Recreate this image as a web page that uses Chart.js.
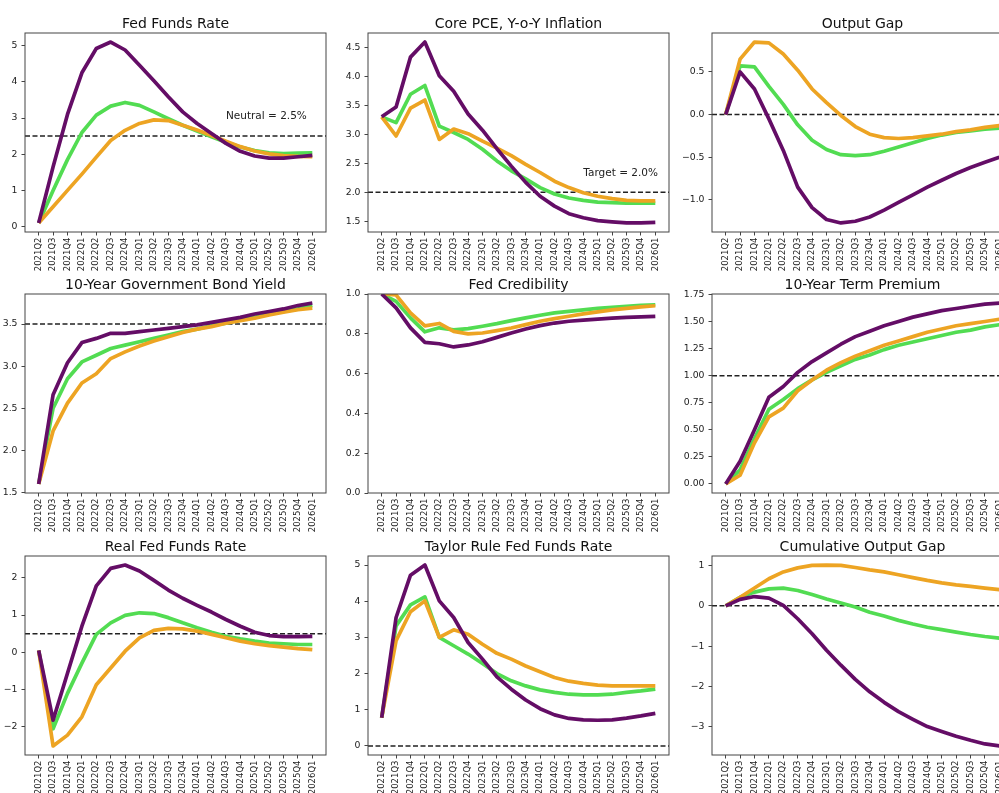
<!DOCTYPE html>
<html>
<head>
<meta charset="utf-8">
<script src="https://cdn.jsdelivr.net/npm/chart.js@4"></script>
<style>
  body { margin: 0; background: #fff; width: 999px; height: 793px; overflow: hidden; position: relative; }
  canvas { position: absolute; }
</style>
</head>
<body>
<script>
// quarters on the x axis
const quarters = ['2021Q2','2021Q3','2021Q4','2022Q1','2022Q2','2022Q3','2022Q4','2023Q1','2023Q2','2023Q3',
                  '2023Q4','2024Q1','2024Q2','2024Q3','2024Q4','2025Q1','2025Q2','2025Q3','2025Q4','2026Q1'];

// Fed Funds Rate
const ffrPurple = [0.1, 1.65, 3.1, 4.25, 4.92, 5.1, 4.88, 4.46, 4.03, 3.59, 3.17, 2.85, 2.57, 2.3, 2.08, 1.95, 1.89, 1.89, 1.93, 1.97];
const ffrGreen  = [0.1, 1.0, 1.85, 2.6, 3.08, 3.33, 3.43, 3.35, 3.17, 2.98, 2.8, 2.64, 2.48, 2.33, 2.2, 2.1, 2.04, 2.02, 2.03, 2.04];
const ffrOrange = [0.1, 0.55, 1.0, 1.45, 1.92, 2.38, 2.66, 2.85, 2.95, 2.93, 2.8, 2.67, 2.52, 2.36, 2.21, 2.09, 2.01, 1.96, 1.94, 1.93];
const ffrTicks  = [0, 1, 2, 3, 4, 5];

// Core PCE inflation
const pcePurple = [3.3, 3.47, 4.33, 4.59, 4.01, 3.74, 3.35, 3.07, 2.75, 2.45, 2.17, 1.93, 1.76, 1.63, 1.56, 1.51, 1.49, 1.47, 1.47, 1.48];
const pceGreen  = [3.3, 3.2, 3.69, 3.84, 3.14, 3.03, 2.91, 2.74, 2.54, 2.37, 2.23, 2.08, 1.97, 1.9, 1.86, 1.83, 1.82, 1.81, 1.81, 1.81];
const pceOrange = [3.3, 2.97, 3.45, 3.59, 2.91, 3.09, 3.01, 2.88, 2.76, 2.63, 2.48, 2.34, 2.19, 2.08, 1.99, 1.93, 1.89, 1.86, 1.85, 1.85];
const pceTicks  = [1.5, 2.0, 2.5, 3.0, 3.5, 4.0, 4.5];

// Output gap
const gapPurple = [0, 0.5, 0.3, -0.05, -0.42, -0.85, -1.09, -1.23, -1.27, -1.25, -1.2, -1.12, -1.03, -0.94, -0.85, -0.77, -0.69, -0.62, -0.56, -0.5];
const gapGreen  = [0, 0.57, 0.56, 0.33, 0.12, -0.12, -0.3, -0.41, -0.47, -0.48, -0.47, -0.43, -0.38, -0.33, -0.28, -0.24, -0.21, -0.19, -0.17, -0.16];
const gapOrange = [0, 0.65, 0.85, 0.84, 0.71, 0.52, 0.3, 0.14, -0.01, -0.14, -0.23, -0.27, -0.28, -0.27, -0.25, -0.23, -0.2, -0.18, -0.15, -0.13];
const gapTicks  = [-1.0, -0.5, 0.0, 0.5];

// 10-year government bond yield
const bondPurple = [1.6, 2.66, 3.04, 3.28, 3.33, 3.39, 3.39, 3.41, 3.43, 3.45, 3.47, 3.49, 3.52, 3.55, 3.58, 3.62, 3.65, 3.68, 3.72, 3.75];
const bondGreen  = [1.6, 2.5, 2.85, 3.05, 3.13, 3.21, 3.25, 3.29, 3.33, 3.37, 3.41, 3.44, 3.48, 3.51, 3.55, 3.58, 3.62, 3.65, 3.68, 3.72];
const bondOrange = [1.6, 2.23, 2.56, 2.8, 2.91, 3.09, 3.17, 3.24, 3.3, 3.35, 3.4, 3.44, 3.47, 3.51, 3.54, 3.57, 3.61, 3.64, 3.67, 3.69];
const bondTicks  = [1.5, 2.0, 2.5, 3.0, 3.5];

// Fed credibility
const credPurple = [1.0, 0.93, 0.83, 0.757, 0.75, 0.734, 0.744, 0.76, 0.782, 0.804, 0.824, 0.841, 0.854, 0.863, 0.869, 0.874, 0.879, 0.883, 0.885, 0.888];
const credGreen  = [1.0, 0.963, 0.88, 0.81, 0.83, 0.82, 0.826, 0.838, 0.851, 0.866, 0.88, 0.893, 0.905, 0.913, 0.92, 0.928, 0.933, 0.938, 0.943, 0.946];
const credOrange = [1.0, 0.995, 0.905, 0.84, 0.852, 0.812, 0.8, 0.804, 0.816, 0.829, 0.846, 0.863, 0.876, 0.888, 0.9, 0.91, 0.92, 0.928, 0.935, 0.941];
const credTicks  = [0.0, 0.2, 0.4, 0.6, 0.8, 1.0];

// 10-year term premium
const termPurple = [0, 0.21, 0.5, 0.8, 0.9, 1.03, 1.13, 1.21, 1.29, 1.36, 1.41, 1.46, 1.5, 1.54, 1.57, 1.6, 1.62, 1.64, 1.66, 1.67];
const termGreen  = [0, 0.13, 0.42, 0.69, 0.78, 0.88, 0.96, 1.03, 1.09, 1.15, 1.19, 1.24, 1.28, 1.31, 1.34, 1.37, 1.4, 1.42, 1.45, 1.47];
const termOrange = [0, 0.08, 0.38, 0.62, 0.7, 0.86, 0.96, 1.05, 1.12, 1.18, 1.23, 1.28, 1.32, 1.36, 1.4, 1.43, 1.46, 1.48, 1.5, 1.52];
const termTicks  = [0, 0.25, 0.5, 0.75, 1.0, 1.25, 1.5, 1.75];

// Real fed funds rate
const realPurple = [0.05, -1.82, -0.56, 0.7, 1.78, 2.25, 2.34, 2.18, 1.93, 1.67, 1.45, 1.26, 1.08, 0.88, 0.7, 0.54, 0.45, 0.42, 0.42, 0.43];
const realGreen  = [0.05, -2.05, -1.1, -0.29, 0.48, 0.79, 0.99, 1.06, 1.04, 0.93, 0.79, 0.66, 0.54, 0.43, 0.36, 0.3, 0.25, 0.23, 0.21, 0.21];
const realOrange = [0.05, -2.51, -2.22, -1.73, -0.87, -0.42, 0.03, 0.39, 0.59, 0.64, 0.63, 0.57, 0.48, 0.39, 0.3, 0.23, 0.18, 0.14, 0.1, 0.07];
const realTicks  = [-2, -1, 0, 1, 2];

// Taylor rule fed funds rate
const taylorPurple = [0.78, 3.55, 4.72, 5.0, 4.01, 3.55, 2.86, 2.4, 1.91, 1.57, 1.27, 1.03, 0.86, 0.76, 0.72, 0.71, 0.72, 0.77, 0.83, 0.9];
const taylorGreen  = [0.78, 3.32, 3.9, 4.12, 3.0, 2.77, 2.54, 2.28, 2.0, 1.8, 1.66, 1.55, 1.48, 1.43, 1.41, 1.41, 1.43, 1.48, 1.52, 1.57];
const taylorOrange = [0.78, 2.91, 3.71, 4.01, 3.0, 3.21, 3.09, 2.81, 2.56, 2.4, 2.21, 2.05, 1.89, 1.79, 1.73, 1.68, 1.66, 1.66, 1.66, 1.66];
const taylorTicks  = [0, 1, 2, 3, 4, 5];

// Cumulative output gap
const cumPurple = [0, 0.16, 0.23, 0.19, 0.01, -0.32, -0.69, -1.1, -1.47, -1.82, -2.13, -2.39, -2.62, -2.81, -2.99, -3.11, -3.23, -3.33, -3.42, -3.47];
const cumGreen  = [0, 0.21, 0.34, 0.42, 0.44, 0.38, 0.28, 0.17, 0.07, -0.03, -0.16, -0.25, -0.36, -0.45, -0.53, -0.59, -0.65, -0.71, -0.76, -0.8];
const cumOrange = [0, 0.21, 0.44, 0.67, 0.84, 0.94, 1.0, 1.01, 1.0, 0.95, 0.89, 0.84, 0.77, 0.7, 0.63, 0.57, 0.52, 0.48, 0.44, 0.4];
const cumTicks  = [-3, -2, -1, 0, 1];

const PURPLE = '#640d66';
const GREEN = '#52dc52';
const ORANGE = '#eda423';
const FONT = "'DejaVu Sans', sans-serif";

const panels = [
  { title: 'Fed Funds Rate', s: [ffrPurple, ffrGreen, ffrOrange], ticks: ffrTicks, dec: 0, ref: 2.5,
    note: { x: 13, y: 2.97, text: 'Neutral = 2.5%' } },
  { title: 'Core PCE, Y-o-Y Inflation', s: [pcePurple, pceGreen, pceOrange], ticks: pceTicks, dec: 1, ref: 2.0,
    note: { x: 14, y: 2.28, text: 'Target = 2.0%' } },
  { title: 'Output Gap', s: [gapPurple, gapGreen, gapOrange], ticks: gapTicks, dec: 1, ref: 0 },
  { title: '10-Year Government Bond Yield', s: [bondPurple, bondGreen, bondOrange], ticks: bondTicks, dec: 1, ref: 3.5 },
  { title: 'Fed Credibility', s: [credPurple, credGreen, credOrange], ticks: credTicks, dec: 1, ref: null, lim: [0, 1] },
  { title: '10-Year Term Premium', s: [termPurple, termGreen, termOrange], ticks: termTicks, dec: 2, ref: 1.0 },
  { title: 'Real Fed Funds Rate', s: [realPurple, realGreen, realOrange], ticks: realTicks, dec: 0, ref: 0.5 },
  { title: 'Taylor Rule Fed Funds Rate', s: [taylorPurple, taylorGreen, taylorOrange], ticks: taylorTicks, dec: 0, ref: 0 },
  { title: 'Cumulative Output Gap', s: [cumPurple, cumGreen, cumOrange], ticks: cumTicks, dec: 0, ref: 0 }
];

const plotLefts = [25, 368, 712];
const plotTops = [33, 294, 556];
const plotW = 301, plotH = 199;
const yW = 40, padT = 30, padR = 2, xH = 50;
const xMin = -0.95, xMax = quarters.length - 1 + 0.95;

const fmt = (v, dec) => {
  const s = Math.abs(v).toFixed(dec);
  return (v < 0 && Number(s) !== 0 ? '\u2212' : '') + s;
};

// frame, title and text annotation
const decor = {
  id: 'decor',
  afterDatasetsDraw(chart, args, opts) {
    const { ctx, chartArea: a, scales } = chart;
    ctx.save();
    ctx.strokeStyle = '#444';
    ctx.lineWidth = 1;
    ctx.strokeRect(a.left, a.top, a.right - a.left, a.bottom - a.top);
    ctx.fillStyle = '#111';
    ctx.font = '14px ' + FONT;
    ctx.textAlign = 'center';
    ctx.textBaseline = 'alphabetic';
    ctx.fillText(opts.title, (a.left + a.right) / 2, a.top - 5);
    if (opts.note) {
      ctx.font = '10.5px ' + FONT;
      ctx.textAlign = 'left';
      ctx.fillStyle = '#222';
      ctx.fillText(opts.note.text, scales.x.getPixelForValue(opts.note.x), scales.y.getPixelForValue(opts.note.y));
    }
    ctx.restore();
  }
};

panels.forEach((p, k) => {
  const col = k % 3, row = Math.floor(k / 3);
  const cv = document.createElement('canvas');
  const W = yW + plotW + padR, H = padT + plotH + xH;
  cv.width = W; cv.height = H;
  cv.style.left = (plotLefts[col] - yW) + 'px';
  cv.style.top = (plotTops[row] - padT) + 'px';
  cv.style.width = W + 'px'; cv.style.height = H + 'px';
  document.body.appendChild(cv);

  let lo, hi;
  if (p.lim) {
    [lo, hi] = p.lim;
  } else {
    const all = p.s.flat().concat(p.ref === null ? [] : [p.ref]);
    const mn = Math.min(...all), mx = Math.max(...all), m = (mx - mn) * 0.05;
    lo = mn - m; hi = mx + m;
  }

  // drawn last = first in list, so purple sits on top
  const colors = [PURPLE, ORANGE, GREEN];
  const series = [p.s[0], p.s[2], p.s[1]];
  const datasets = series.map((vals, j) => ({
    data: vals.map((v, i) => ({ x: i, y: v })),
    borderColor: colors[j],
    borderWidth: 3.7,
    pointRadius: 0,
    tension: 0,
    borderJoinStyle: 'round',
    fill: false
  }));
  if (p.ref !== null) {
    datasets.push({
      data: [{ x: xMin, y: p.ref }, { x: xMax, y: p.ref }],
      borderColor: '#222',
      borderWidth: 1.5,
      borderDash: [5, 2.5],
      pointRadius: 0,
      fill: false
    });
  }

  new Chart(cv, {
    type: 'line',
    data: { datasets },
    options: {
      responsive: false,
      animation: false,
      events: [],
      layout: { padding: { top: padT, right: padR, left: 0, bottom: 0 } },
      plugins: { legend: { display: false }, title: { display: false }, tooltip: { enabled: false },
                 decor: { title: p.title, note: p.note } },
      scales: {
        x: {
          type: 'linear', min: xMin, max: xMax, bounds: 'data',
          afterBuildTicks: s => { s.ticks = quarters.map((q, i) => ({ value: i })); },
          afterFit: s => { s.height = xH; },
          grid: { drawOnChartArea: false, drawTicks: true, tickLength: 3.5, color: '#444' },
          border: { display: false },
          ticks: {
            autoSkip: false, maxRotation: 90, minRotation: 90, padding: 2,
            color: '#222', font: { family: FONT, size: 8.5 },
            callback: v => quarters[v]
          }
        },
        y: {
          type: 'linear', min: lo, max: hi, bounds: 'data',
          afterBuildTicks: s => { s.ticks = p.ticks.map(v => ({ value: v })); },
          afterFit: s => { s.width = yW; },
          grid: { drawOnChartArea: false, drawTicks: true, tickLength: 3.5, color: '#444' },
          border: { display: false },
          ticks: {
            padding: 4, color: '#222', font: { family: FONT, size: 9.3 },
            callback: v => fmt(v, p.dec)
          }
        }
      }
    },
    plugins: [decor]
  });
});
</script>
</body>
</html>
